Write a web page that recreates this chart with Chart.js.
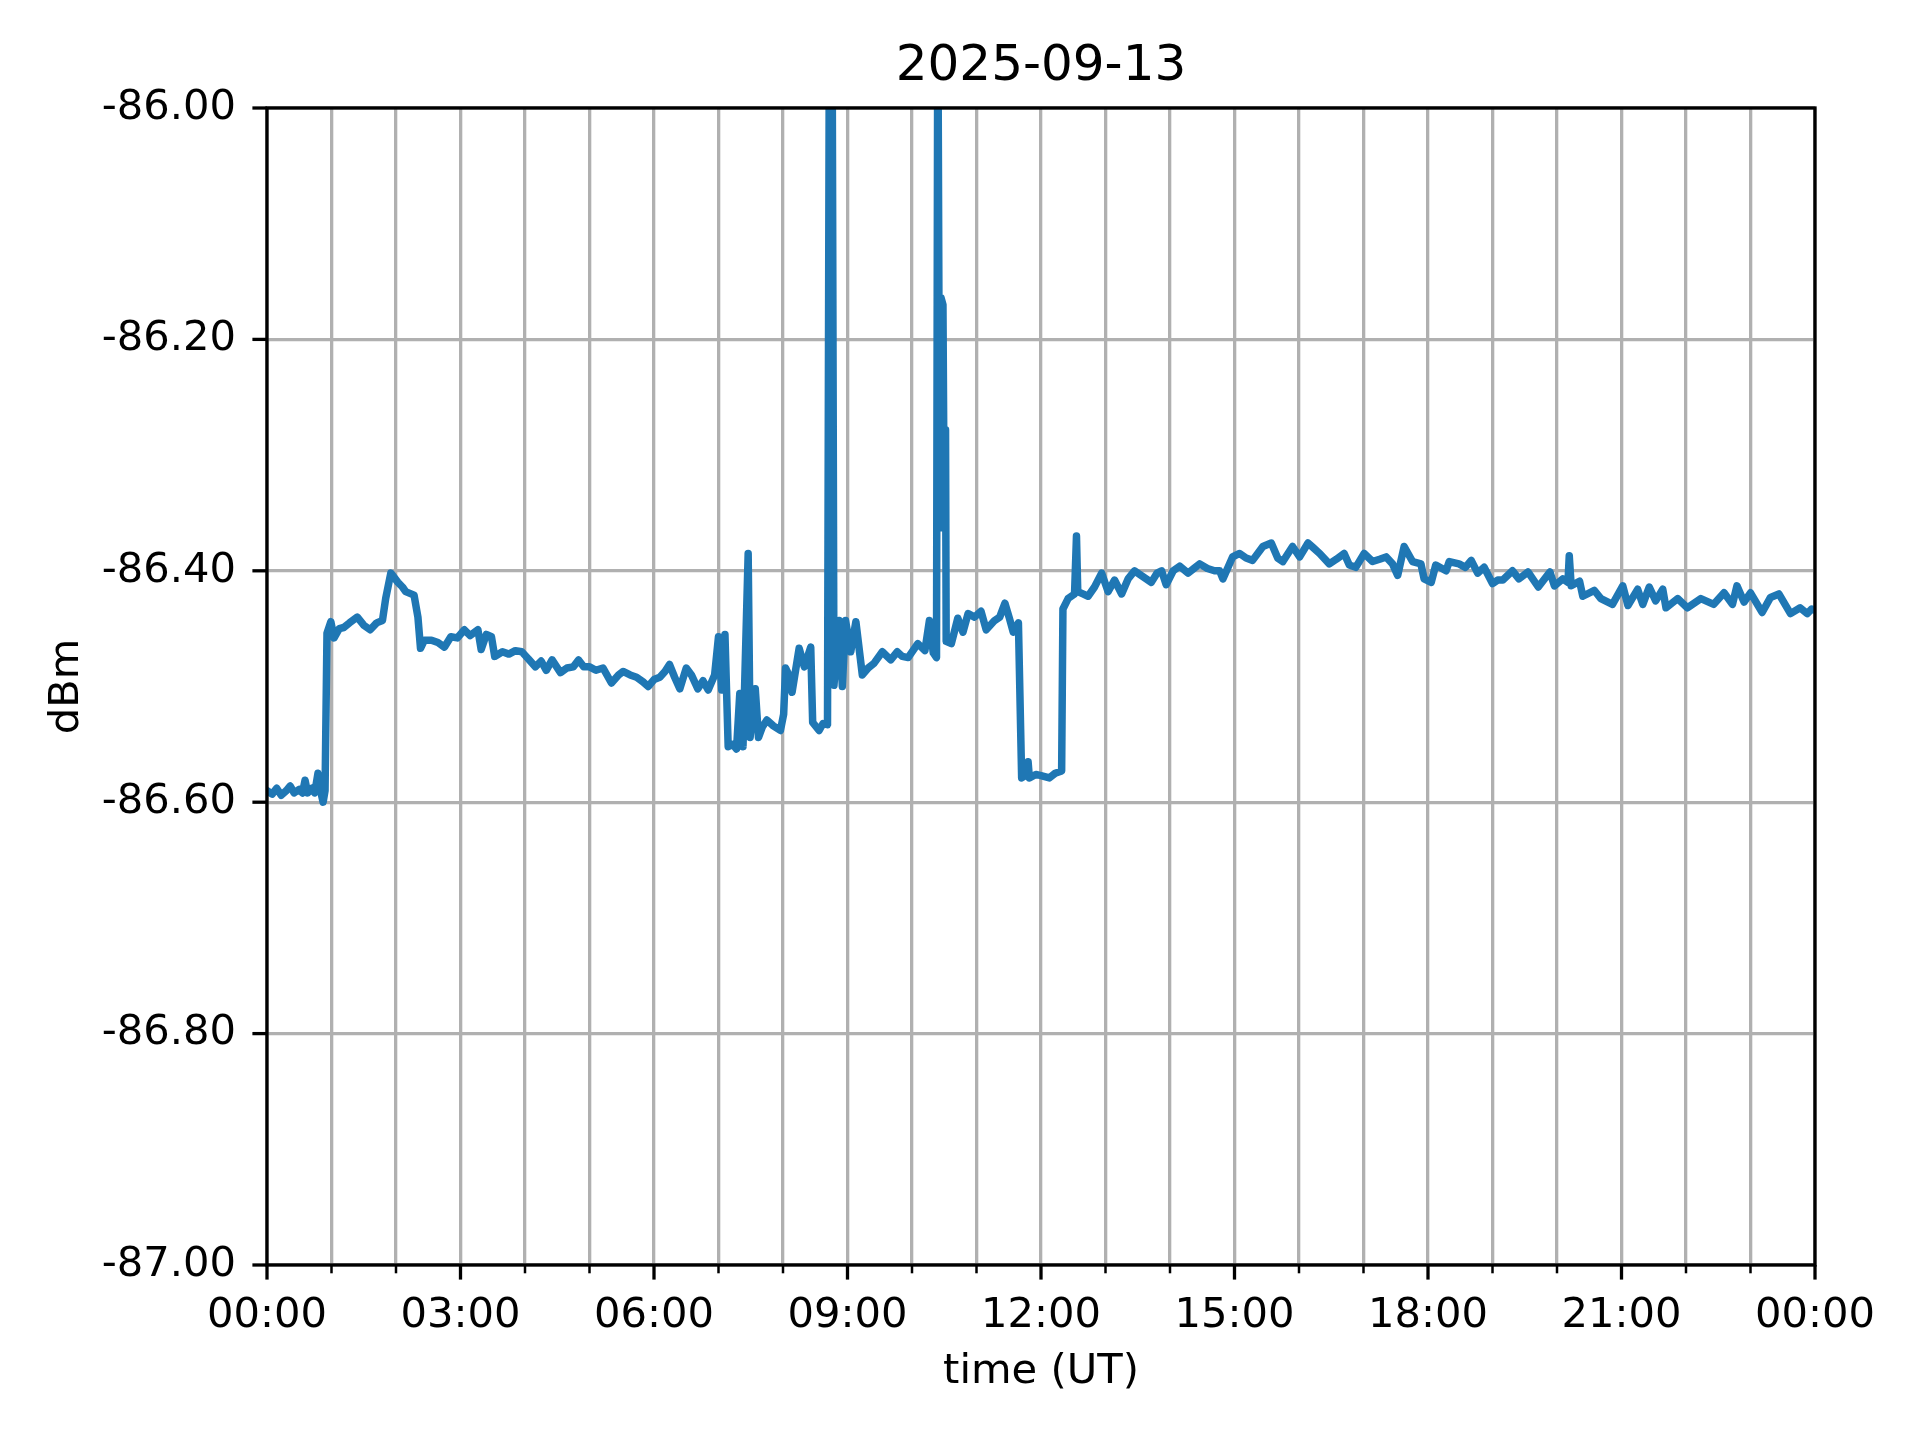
<!DOCTYPE html>
<html>
<head>
<meta charset="utf-8">
<script src="https://cdn.jsdelivr.net/npm/chart.js@4.4.0/dist/chart.umd.min.js"></script>
<style>
  body { margin: 0; background: #fff; }
</style>
</head>
<body>
<canvas id="powerChart" width="1920" height="1440"></canvas>
<script>
// time in hours since 00:00 UT
var hours = [0.00,0.08,0.15,0.22,0.30,0.36,0.42,0.50,0.55,0.59,0.63,0.70,0.74,0.79,0.83,0.87,0.90,
  0.93,0.99,1.04,1.12,1.19,1.28,1.40,1.50,1.60,1.70,1.79,1.84,1.92,2.03,2.10,2.15,2.28,2.34,2.38,2.44,
  2.55,2.65,2.75,2.85,2.95,3.06,3.15,3.27,3.32,3.40,3.48,3.53,3.65,3.75,3.85,3.95,4.05,4.16,4.25,4.33,
  4.42,4.55,4.65,4.75,4.83,4.91,5.00,5.10,5.21,5.34,5.45,5.52,5.63,5.73,5.83,5.91,6.00,6.09,6.17,6.24,
  6.32,6.40,6.50,6.58,6.68,6.76,6.84,6.94,7.00,7.05,7.10,7.15,7.22,7.28,7.33,7.38,7.46,7.49,7.57,7.62,
  7.68,7.75,7.85,7.96,8.01,8.04,8.09,8.14,8.25,8.33,8.43,8.46,8.56,8.62,8.69,8.72,8.76,8.79,8.87,8.92,
  8.97,9.05,9.13,9.23,9.32,9.41,9.54,9.67,9.77,9.85,9.94,10.09,10.20,10.27,10.33,10.38,10.40,10.43,
  10.45,10.48,10.50,10.52,10.53,10.61,10.71,10.79,10.87,10.97,11.07,11.15,11.28,11.36,11.44,11.51,
  11.57,11.65,11.70,11.76,11.80,11.82,11.92,12.00,12.13,12.22,12.32,12.34,12.42,12.52,12.55,12.57,
  12.65,12.73,12.83,12.94,13.04,13.14,13.25,13.35,13.45,13.58,13.71,13.80,13.87,13.94,14.05,14.15,
  14.28,14.37,14.46,14.58,14.69,14.77,14.82,14.97,15.08,15.18,15.28,15.44,15.57,15.67,15.75,15.90,
  16.01,16.14,16.22,16.32,16.47,16.58,16.70,16.78,16.88,17.01,17.14,17.25,17.35,17.45,17.53,17.63,
  17.76,17.89,17.94,18.05,18.12,18.28,18.33,18.48,18.58,18.67,18.77,18.87,19.00,19.08,19.16,19.31,
  19.41,19.55,19.71,19.89,19.96,20.09,20.17,20.19,20.22,20.35,20.40,20.58,20.68,20.86,21.02,21.10,
  21.25,21.33,21.43,21.53,21.64,21.69,21.87,22.02,22.23,22.43,22.59,22.72,22.79,22.90,23.00,23.18,
  23.31,23.44,23.62,23.77,23.88,23.95,24.00];

var dbm = [-86.590,-86.593,-86.588,-86.594,-86.590,-86.586,-86.592,-86.589,-86.592,-86.581,-86.592,-86.588,-86.592,-86.575,-86.590,-86.600,-86.590,
  -86.454,-86.444,-86.458,-86.450,-86.449,-86.445,-86.440,-86.447,-86.451,-86.445,-86.443,-86.424,-86.402,-86.410,-86.414,-86.418,-86.421,-86.440,-86.467,-86.460,
  -86.460,-86.462,-86.466,-86.457,-86.458,-86.451,-86.456,-86.451,-86.468,-86.455,-86.457,-86.474,-86.470,-86.472,-86.469,-86.470,-86.476,-86.483,-86.478,-86.486,
  -86.477,-86.488,-86.484,-86.483,-86.477,-86.483,-86.483,-86.486,-86.484,-86.497,-86.490,-86.487,-86.490,-86.492,-86.496,-86.500,-86.494,-86.492,-86.487,-86.481,
  -86.492,-86.502,-86.484,-86.490,-86.502,-86.495,-86.503,-86.490,-86.457,-86.503,-86.455,-86.552,-86.550,-86.554,-86.506,-86.552,-86.385,-86.544,-86.502,-86.544,
  -86.535,-86.529,-86.534,-86.538,-86.524,-86.484,-86.490,-86.505,-86.467,-86.483,-86.466,-86.531,-86.538,-86.532,-86.533,-85.900,-85.900,-86.499,-86.443,-86.500,
  -86.443,-86.470,-86.444,-86.490,-86.484,-86.480,-86.470,-86.477,-86.470,-86.474,-86.475,-86.463,-86.469,-86.443,-86.471,-86.475,-85.900,-86.363,
  -86.164,-86.170,-86.359,-86.278,-86.461,-86.463,-86.441,-86.453,-86.437,-86.440,-86.435,-86.451,-86.443,-86.440,-86.428,-86.441,
  -86.453,-86.445,-86.579,-86.577,-86.565,-86.579,-86.576,-86.577,-86.579,-86.575,-86.573,-86.433,-86.424,-86.420,-86.370,-86.418,
  -86.420,-86.422,-86.414,-86.402,-86.418,-86.408,-86.420,-86.407,-86.400,-86.405,-86.410,-86.402,-86.400,-86.412,-86.400,-86.396,
  -86.402,-86.398,-86.394,-86.398,-86.400,-86.400,-86.407,-86.388,-86.385,-86.389,-86.391,-86.379,-86.376,-86.389,-86.392,-86.379,
  -86.388,-86.376,-86.380,-86.385,-86.394,-86.390,-86.385,-86.395,-86.397,-86.385,-86.392,-86.390,-86.388,-86.394,-86.404,-86.379,
  -86.392,-86.394,-86.407,-86.410,-86.395,-86.400,-86.392,-86.394,-86.397,-86.391,-86.402,-86.397,-86.411,-86.408,-86.408,-86.400,
  -86.407,-86.401,-86.414,-86.401,-86.413,-86.407,-86.410,-86.387,-86.413,-86.409,-86.422,-86.417,-86.424,-86.429,-86.413,-86.430,
  -86.416,-86.429,-86.414,-86.426,-86.416,-86.432,-86.424,-86.432,-86.424,-86.429,-86.419,-86.429,-86.413,-86.427,-86.419,-86.436,
  -86.423,-86.420,-86.437,-86.432,-86.437,-86.433,-86.434];

var xTickLabels = ["00:00","03:00","06:00","09:00","12:00","15:00","18:00","21:00","00:00"];
var yMin = -87.0, yMax = -86.0, yStep = 0.2;

var points = hours.map(function (h, i) { return {x: h, y: dbm[i]}; });

Chart.defaults.font.family = "'DejaVu Sans', sans-serif";
Chart.defaults.color = "#000";

// frame on all four sides plus matplotlib-style major/minor tick marks
var framePlugin = {
    id: 'frame',
    afterDraw: function (chart) {
        var ctx = chart.ctx, a = chart.chartArea;
        var xs = chart.scales.x, ys = chart.scales.y;
        ctx.save();
        ctx.strokeStyle = '#000';
        ctx.lineWidth = 3.3;
        ctx.strokeRect(a.left, a.top, a.right - a.left, a.bottom - a.top);
        xs.ticks.forEach(function (t) {
            var px = xs.getPixelForValue(t.value);
            var major = Math.round(t.value) % 3 === 0;
            ctx.lineWidth = major ? 3.3 : 2.5;
            ctx.beginPath();
            ctx.moveTo(px, a.bottom);
            ctx.lineTo(px, a.bottom + (major ? 14.6 : 8.3));
            ctx.stroke();
        });
        ctx.lineWidth = 3.3;
        ys.ticks.forEach(function (t) {
            var py = ys.getPixelForValue(t.value);
            ctx.beginPath();
            ctx.moveTo(a.left, py);
            ctx.lineTo(a.left - 14.6, py);
            ctx.stroke();
        });
        ctx.restore();
    }
};

var powerChart = new Chart("powerChart", {
    type: 'line',
    data: {
        datasets: [{
            data: points,
            borderColor: '#1f77b4',
            borderWidth: 7.5,
            borderJoinStyle: 'round',
            borderCapStyle: 'round',
            pointRadius: 0,
            tension: 0,
            clip: 0
        }]
    },
    options: {
        responsive: false,
        animation: false,
        layout: { padding: { left: 0, right: 105, top: 0, bottom: 0 } },
        plugins: {
            legend: { display: false },
            tooltip: { enabled: false },
            title: {
                display: true,
                text: '2025-09-13',
                fullSize: false,
                font: { size: 50, weight: 'normal' },
                padding: { top: 37, bottom: 11 }
            }
        },
        scales: {
            x: {
                type: 'linear',
                min: 0,
                max: 24,
                afterFit: function (s) { s.height = 175; },
                afterBuildTicks: function (s) {
                    var t = [];
                    for (var h = 0; h <= 24; h++) t.push({value: h});
                    s.ticks = t;
                },
                ticks: {
                    autoSkip: false,
                    maxRotation: 0,
                    padding: 26,
                    font: { size: 41.67 },
                    callback: function (v) { return v % 3 === 0 ? xTickLabels[v / 3] : ''; }
                },
                grid: { color: '#b0b0b0', lineWidth: 3.3, drawTicks: false },
                border: { display: false },
                title: { display: true, text: 'time (UT)', font: { size: 41.67 }, padding: { top: 43, bottom: 43 } }
            },
            y: {
                min: yMin,
                max: yMax,
                afterFit: function (s) { s.width = 267; },
                ticks: {
                    stepSize: yStep,
                    padding: 31,
                    font: { size: 41.67 },
                    callback: function (v) { return v.toFixed(2); }
                },
                grid: { color: '#b0b0b0', lineWidth: 3.3, drawTicks: false },
                border: { display: false },
                title: { display: true, text: 'dBm', font: { size: 41.67 }, padding: { top: 42, bottom: 42 } }
            }
        }
    },
    plugins: [framePlugin]
});
</script>
</body>
</html>
